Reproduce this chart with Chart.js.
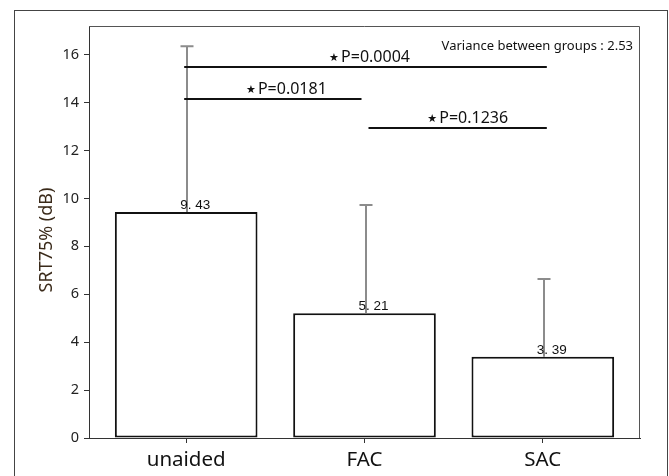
<!DOCTYPE html>
<html>
<head>
<meta charset="utf-8">
<script src="https://cdn.jsdelivr.net/npm/chart.js@4/dist/chart.umd.min.js"></script>
<style>
html,body{margin:0;padding:0;background:#fff;}
#wrap{width:669px;height:476px;position:relative;}
</style>
</head>
<body>
<div id="wrap"><canvas id="c" width="669" height="476"></canvas></div>
<script>
// ---- data ----
const categories = ["unaided", "FAC", "SAC"];
const means = [9.43, 5.21, 3.39];
const meanLabels = ["9. 43", "5. 21", "3. 39"];
const errorTops = [16.35, 9.73, 6.64];
const sigFrom = [1, 1, 2];      // category index (1-based)
const sigTo = [3, 2, 3];
const sigLevel = [15.5, 14.15, 12.95];
const sigLabels = ["P=0.0004", "P=0.0181", "P=0.1236"];
const yTickValues = [0, 2, 4, 6, 8, 10, 12, 14, 16];
const yAxisTitle = "SRT75% (dB)";
const varianceNote = "Variance between groups : 2.53";

const FONT = "'Noto Sans', 'Open Sans', sans-serif";

const annot = {
  id: 'annot',
  afterDatasetsDraw(chart) {
    const ctx = chart.ctx;
    const xs = chart.scales.x, ys = chart.scales.y;
    const ca = chart.chartArea;
    ctx.save();
    // outer frame
    ctx.strokeStyle = '#444';
    ctx.lineWidth = 1;
    ctx.strokeRect(14.5, 10.5, 653, 500);
    // plot frame (top/right)
    ctx.strokeStyle = '#555';
    ctx.beginPath();
    ctx.moveTo(ca.left, ca.top + 0.5);
    ctx.lineTo(ca.right - 0.5, ca.top + 0.5);
    ctx.lineTo(ca.right - 0.5, ca.bottom);
    ctx.stroke();

    // error bars (upper only)
    ctx.strokeStyle = '#8c8c8c';
    ctx.lineWidth = 2;
    means.forEach((m, i) => {
      const x = Math.round(xs.getPixelForValue(i + 1)) + 1;
      const y0 = ys.getPixelForValue(m);
      const y1 = ys.getPixelForValue(errorTops[i]);
      ctx.beginPath();
      ctx.moveTo(x, y0);
      ctx.lineTo(x, y1);
      ctx.moveTo(x - 6.5, y1);
      ctx.lineTo(x + 6.5, y1);
      ctx.stroke();
    });

    // value labels
    ctx.fillStyle = '#111';
    ctx.font = "13.5px 'Liberation Sans', Arial, sans-serif";
    ctx.textAlign = 'center';
    ctx.textBaseline = 'alphabetic';
    means.forEach((m, i) => {
      const x = xs.getPixelForValue(i + 1) + 9;
      const y = ys.getPixelForValue(m) - 3;
      ctx.fillText(meanLabels[i], x, y);
    });

    // significance lines
    const labelShift = [6, 12, 15];
    ctx.strokeStyle = '#111';
    ctx.lineWidth = 2;
    sigFrom.forEach((f, k) => {
      const xa = xs.getPixelForValue(f) - 2 + (k === 2 ? 6 : 0);
      const xb = xs.getPixelForValue(sigTo[k]) + (k === 1 ? -3 : 4);
      const y = Math.round(ys.getPixelForValue(sigLevel[k]));
      ctx.beginPath();
      ctx.moveTo(xa, y);
      ctx.lineTo(xb, y);
      ctx.stroke();
      const cx = (xs.getPixelForValue(f) + xs.getPixelForValue(sigTo[k])) / 2 + labelShift[k];
      ctx.font = "16px " + FONT;
      const tw = ctx.measureText(sigLabels[k]).width;
      ctx.textAlign = 'left';
      ctx.fillStyle = '#111';
      const base = y - 5;
      ctx.fillText(sigLabels[k], cx - tw / 2 + 5, base);
      ctx.font = "11px 'DejaVu Sans', sans-serif";
      ctx.fillText("★", cx - tw / 2 - 7, base - 1);
    });

    // variance note
    ctx.font = "13px " + FONT;
    ctx.textAlign = 'right';
    ctx.fillStyle = '#111';
    ctx.fillText(varianceNote, 633, 50);

    // y axis title
    ctx.save();
    ctx.translate(47, 240);
    ctx.rotate(-Math.PI / 2);
    ctx.textAlign = 'center';
    ctx.textBaseline = 'middle';
    ctx.font = "18px " + FONT;
    ctx.fillStyle = '#3a2a1a';
    ctx.fillText(yAxisTitle, 0, 0);
    ctx.restore();

    ctx.restore();
  }
};

new Chart(document.getElementById('c'), {
  type: 'bar',
  data: {
    datasets: [{
      data: categories.map((c, i) => ({ x: i + 1, y: means[i] })),
      backgroundColor: '#ffffff',
      borderColor: '#111111',
      borderWidth: 2,
      borderSkipped: false,
      categoryPercentage: 1,
      barPercentage: 0.8
    }]
  },
  options: {
    responsive: false,
    animation: false,
    events: [],
    layout: { padding: { left: 0, top: 26, right: 29, bottom: 0 } },
    plugins: { legend: { display: false }, tooltip: { enabled: false }, title: { display: false } },
    scales: {
      x: {
        type: 'linear',
        min: 0.455,
        max: 3.545,
        offset: false,
        afterBuildTicks(axis) { axis.ticks = categories.map((c, i) => ({ value: i + 1 })); },
        afterFit(axis) { axis.height = 38; },
        ticks: {
          callback: (v) => categories[Math.round(v) - 1] || '',
          font: { size: 20.5, family: FONT },
          color: '#111',
          padding: 5,
          maxRotation: 0,
          autoSkip: false
        },
        grid: { display: true, offset: false, drawOnChartArea: false, drawTicks: true, tickLength: 5, color: '#333' },
        border: { display: true, color: '#333', width: 1 }
      },
      y: {
        min: 0,
        max: 17.2,
        afterBuildTicks(axis) { axis.ticks = yTickValues.map(v => ({ value: v })); },
        afterFit(axis) { axis.width = 89; },
        ticks: {
          font: { size: 14.5, family: FONT },
          color: '#222',
          padding: 5
        },
        grid: { display: true, offset: false, drawOnChartArea: false, drawTicks: true, tickLength: 5, color: '#333' },
        border: { display: true, color: '#333', width: 1 }
      }
    }
  },
  plugins: [annot]
});
</script>
</body>
</html>
